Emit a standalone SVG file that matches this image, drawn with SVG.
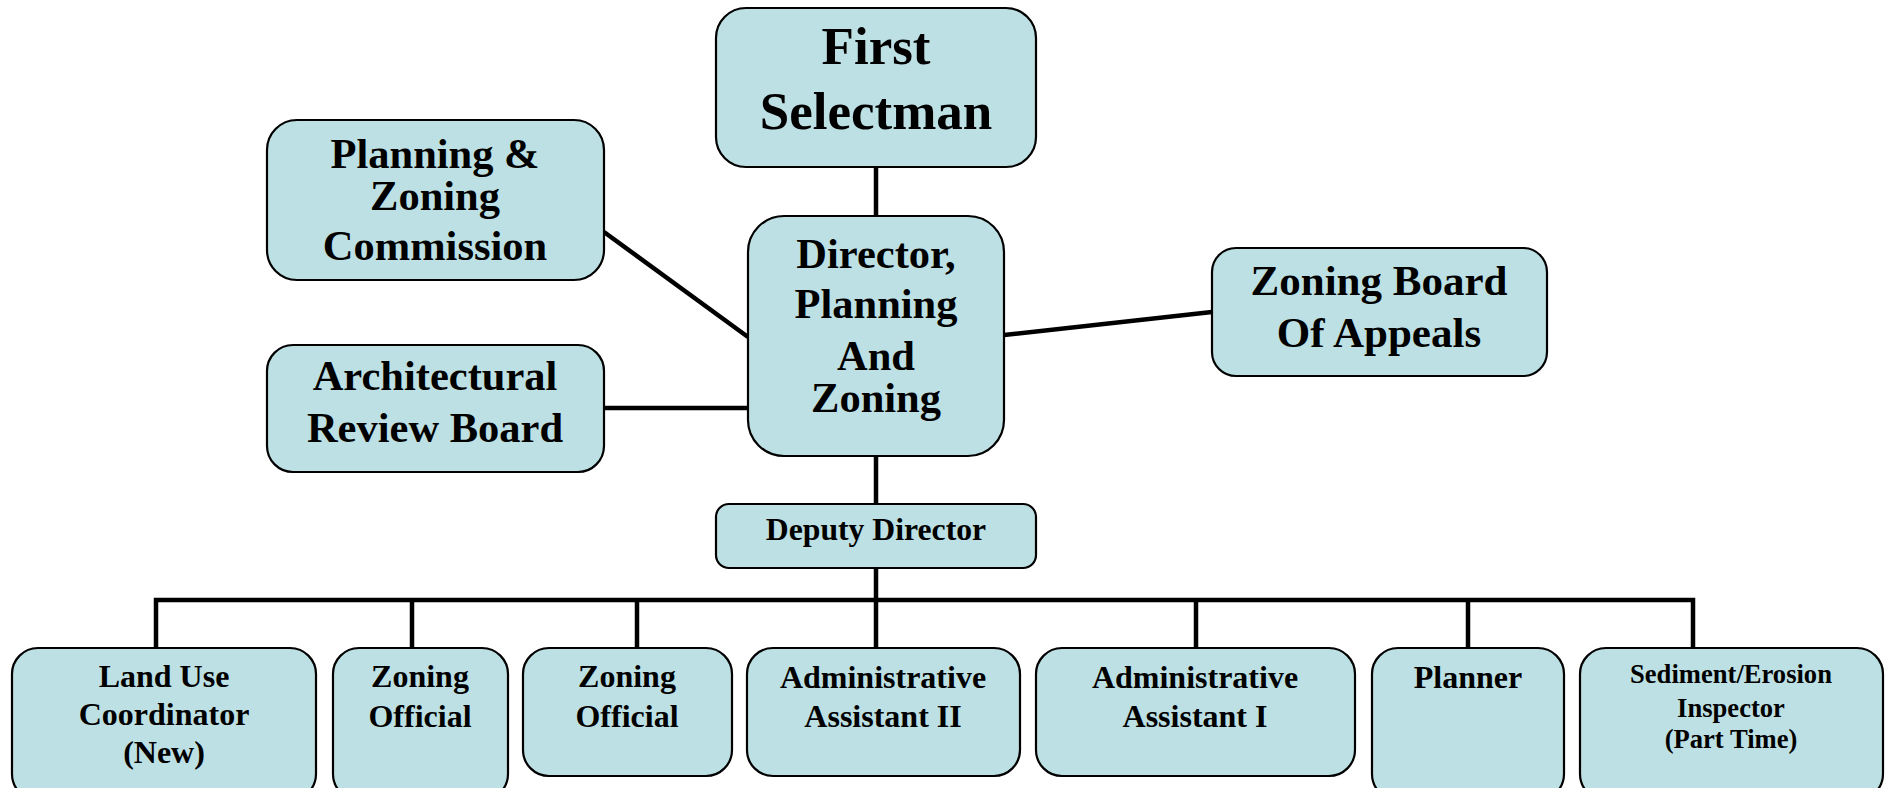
<svg xmlns="http://www.w3.org/2000/svg" width="1889" height="788" viewBox="0 0 1889 788">
  <style>
    .box { fill: #bde0e4; stroke: #000; stroke-width: 2.2; }
    .lbl { font-family: "Liberation Serif", "Times New Roman", serif; font-weight: bold; fill: #000; text-anchor: middle; }
    .big { font-size: 42.5px; }
    .small { font-size: 32px; }
    .conn { stroke: #000; stroke-width: 4.5; fill: none; stroke-linecap: butt; }
  </style>
  <rect width="1889" height="788" fill="#fff"/>

  <!-- reporting lines -->
  <g id="connectors">
    <line class="conn" x1="876" y1="167" x2="876" y2="216"/>
    <line class="conn" x1="604" y1="232" x2="748" y2="337" stroke-width="3.8"/>
    <line class="conn" x1="604" y1="408" x2="748" y2="408"/>
    <line class="conn" x1="1004" y1="335" x2="1212" y2="312"/>
    <line class="conn" x1="876" y1="456" x2="876" y2="504"/>
    <line class="conn" x1="876" y1="568" x2="876" y2="648"/>
    <polyline class="conn" points="156,648 156,600 1693,600 1693,648" stroke-width="5"/>
    <line class="conn" x1="412" y1="600" x2="412" y2="648"/>
    <line class="conn" x1="637" y1="600" x2="637" y2="648"/>
    <line class="conn" x1="1196" y1="600" x2="1196" y2="648"/>
    <line class="conn" x1="1468" y1="600" x2="1468" y2="648"/>
  </g>

  <g id="first-selectman">
    <rect class="box" x="716" y="8" width="320" height="159" rx="30"/>
    <text class="lbl" font-size="53" x="876" y="64">First</text>
    <text class="lbl" font-size="53" x="876" y="129">Selectman</text>
  </g>

  <g id="planning-zoning-commission">
    <rect class="box" x="267" y="120" width="337" height="160" rx="30"/>
    <text class="lbl big" x="435" y="168">Planning &amp;</text>
    <text class="lbl big" x="435" y="210">Zoning</text>
    <text class="lbl big" x="435" y="260">Commission</text>
  </g>

  <g id="architectural-review-board">
    <rect class="box" x="267" y="345" width="337" height="127" rx="26"/>
    <text class="lbl big" x="435" y="390">Architectural</text>
    <text class="lbl big" x="435" y="442">Review Board</text>
  </g>

  <g id="director">
    <rect class="box" x="748" y="216" width="256" height="240" rx="36"/>
    <text class="lbl big" x="876" y="268">Director,</text>
    <text class="lbl big" x="876" y="318">Planning</text>
    <text class="lbl big" x="876" y="370">And</text>
    <text class="lbl big" x="876" y="412">Zoning</text>
  </g>

  <g id="zoning-board-of-appeals">
    <rect class="box" x="1212" y="248" width="335" height="128" rx="24"/>
    <text class="lbl" font-size="43" x="1379" y="295">Zoning Board</text>
    <text class="lbl" font-size="43" x="1379" y="347">Of Appeals</text>
  </g>

  <g id="deputy-director">
    <rect class="box" x="716" y="504" width="320" height="64" rx="13"/>
    <text class="lbl" font-size="31.7" x="876" y="540">Deputy Director</text>
  </g>

  <g id="land-use-coordinator">
    <rect class="box" x="12" y="648" width="304" height="152" rx="26"/>
    <text class="lbl small" x="164" y="687">Land Use</text>
    <text class="lbl small" x="164" y="725">Coordinator</text>
    <text class="lbl small" x="164" y="763">(New)</text>
  </g>

  <g id="zoning-official-1">
    <rect class="box" x="333" y="648" width="175" height="152" rx="26"/>
    <text class="lbl small" x="420" y="687">Zoning</text>
    <text class="lbl small" x="420" y="727">Official</text>
  </g>

  <g id="zoning-official-2">
    <rect class="box" x="523" y="648" width="209" height="128" rx="26"/>
    <text class="lbl small" x="627" y="687">Zoning</text>
    <text class="lbl small" x="627" y="727">Official</text>
  </g>

  <g id="administrative-assistant-2">
    <rect class="box" x="747" y="648" width="273" height="128" rx="26"/>
    <text class="lbl small" x="883" y="688">Administrative</text>
    <text class="lbl small" x="883" y="727">Assistant II</text>
  </g>

  <g id="administrative-assistant-1">
    <rect class="box" x="1036" y="648" width="319" height="128" rx="26"/>
    <text class="lbl small" x="1195" y="688">Administrative</text>
    <text class="lbl small" x="1195" y="727">Assistant I</text>
  </g>

  <g id="planner">
    <rect class="box" x="1372" y="648" width="192" height="152" rx="26"/>
    <text class="lbl small" x="1468" y="688">Planner</text>
  </g>

  <g id="sediment-erosion-inspector">
    <rect class="box" x="1580" y="648" width="303" height="152" rx="26"/>
    <text class="lbl" font-size="26.6" x="1731" y="683">Sediment/Erosion</text>
    <text class="lbl" font-size="26.6" x="1731" y="717">Inspector</text>
    <text class="lbl" font-size="26.6" x="1731" y="748">(Part Time)</text>
  </g>
</svg>
